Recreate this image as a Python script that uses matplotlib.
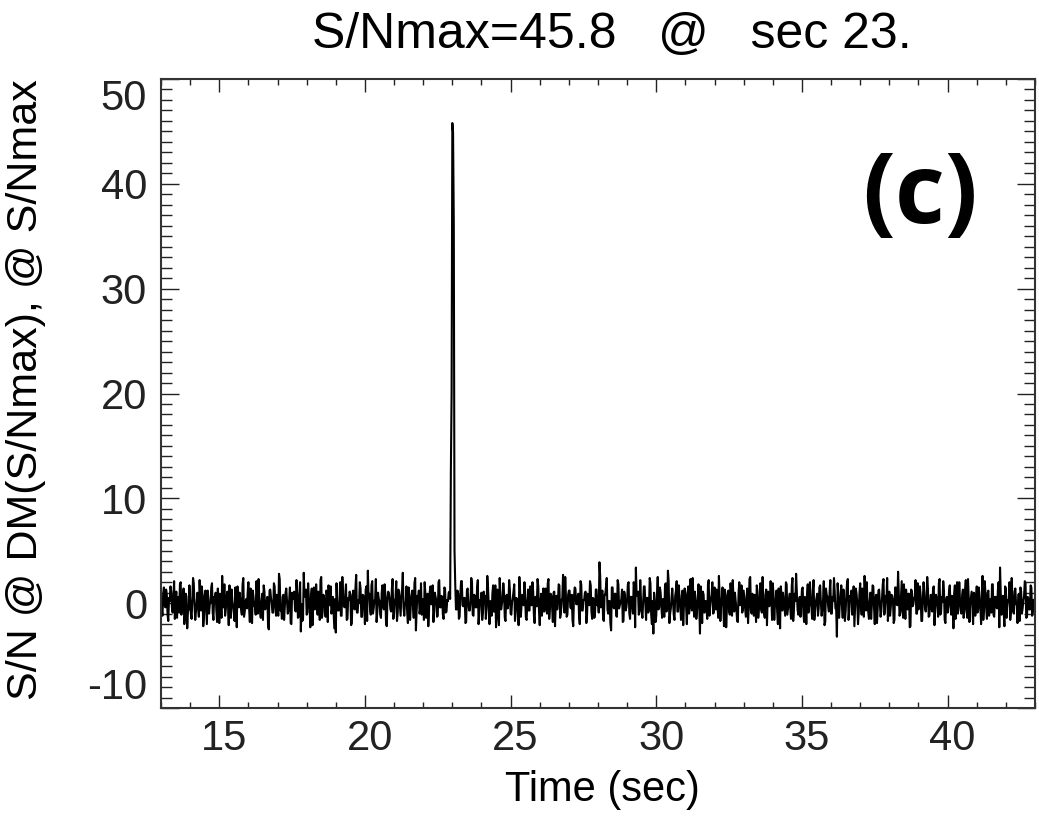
import numpy as np
import matplotlib
matplotlib.use("Agg")
from matplotlib import pyplot as plt
from matplotlib import transforms
from matplotlib.ticker import MultipleLocator

# S/N time series at the DM of the S/N maximum, 13 s to 43 s.
# sn_even: samples every 0.05 s (burst at 23 s), sn_odd: the samples in between.
sn_even = [
    0.3, -1.2, 1.5, -0.4, 0.8, -1.7, 0.2, 1.1, -0.9, 2.1,
    -0.3, -1.4, 0.6, 1.8, -1.1, 0.1, -2.0, 0.9, -2.4, -0.6,
    0.4, -1.5, 2.4, -0.2, -0.8, 1.0, -1.3, 0.5, 1.6, -2.2,
    0.7, -0.5, 1.2, -1.0, 0.0, 1.9, -1.6, 0.3, -0.7, 1.4,
    -1.9, 0.8, 2.6, -0.4, -1.2, 0.6, -0.1, 1.7, -1.4, 0.2,
    -0.9, 1.5, -2.3, 0.4, 1.0, -0.6, 1.8, -1.3, 0.1, -0.5,
    2.0, -1.8, 0.7, 1.2, -0.3, -1.1, 0.9, 2.3, -0.8, 0.2,
    -1.6, 1.1, -0.4, 0.6, -2.5, 1.3, 0.0, -0.9, 1.6, -1.2,
    0.5, 2.8, -0.7, -1.5, 0.8, -0.2, 1.4, -1.0, 0.3, -1.9,
    1.0, 0.4, -0.6, 2.2, -1.4, 0.9, -2.7, -1.7, 2.9, 0.6,
    -1.1, 1.9, -0.3, 0.7, -2.1, 1.5, -0.5, 0.2, 1.1, -1.6,
    2.5, -0.8, 0.4, -1.3, 0.9, 1.7, -0.2, -1.0, 0.6, -2.4,
    -2.8, 0.1, -0.7, 2.0, -1.2, 0.5, -0.4, 1.8, -1.5, 0.3,
    0.8, -1.9, 1.2, -0.6, 2.7, -0.9, 0.0, 1.4, -1.3, 0.7,
    -2.0, 1.6, 3.1, 0.9, -1.1, 2.1, -0.5, 0.4, -1.8, 1.0,
    0.2, -1.4, 1.7, -0.6, 0.9, -2.2, 1.1, 0.3, -0.8, 2.3,
    -1.0, 0.5, -1.7, 1.3, -0.2, 0.8, 2.9, -1.2, 0.1, -0.9,
    1.5, -1.6, 0.6, -0.3, 1.9, -2.6, 0.7, 1.2, -0.5, -1.1,
    0.4, 2.0, -1.4, 0.9, -0.7, 1.6, -0.1, -1.8, 1.0, 0.3,
    -1.2, 2.2, -0.4, 0.6, -1.5, 1.4, -0.8, 0.2, 1.1, 12.8,
    45.8, 36.2, 1.8, -0.6, 0.9, -1.3, 2.1, -0.2, 0.5, -1.9,
    1.2, 0.0, -0.7, 2.4, -1.1, 0.8, -0.4, 1.5, -2.0, 0.3,
    1.0, -0.9, 0.6, -1.5, 2.6, -0.3, 0.2, -1.2, 1.7, -0.8,
    -2.3, 1.3, -2.1, 0.9, -0.1, 1.9, -1.4, 0.7, -0.5, 2.2,
    -1.0, 0.1, 1.1, -1.7, 0.5, -0.6, 2.5, -1.3, 0.8, -0.2,
    0.4, -1.6, 1.3, -0.7, 0.1, 2.0, -1.2, 0.6, -0.3, 1.6,
    -2.1, 0.9, 0.2, -0.8, 1.4, -1.0, 2.3, -0.5, 0.7, -1.8,
    1.1, 0.0, -0.6, 1.8, -1.4, 0.3, 2.7, -0.9, 0.5, -1.1,
    1.2, -0.4, 0.8, -2.2, 1.5, -0.1, 0.6, -1.3, 2.1, -0.7,
    0.3, 1.0, -1.9, 0.9, -0.2, 1.7, -1.5, 0.4, -0.8, 1.3,
    0.6, 3.9, -0.4, 1.2, -1.7, 0.8, 2.4, -1.0, 0.2, -2.6,
    1.5, -0.5, 0.9, -1.3, 1.8, -0.2, 0.4, -1.8, 1.1, -0.7,
    0.3, 2.0, -1.5, 0.6, -1.0, 1.4, 3.4, 0.7, -1.1, 2.2,
    -0.9, 0.1, 1.6, -1.6, 0.5, -0.6, 1.9, -2.0, -2.9, 0.0,
    -1.2, 2.5, -0.4, 1.0, -1.4, 0.3, 1.7, -0.8, 3.1, -1.9,
    -0.5, 1.4, -1.1, 0.7, 2.1, -0.8, 0.3, -1.6, 1.2, -0.2,
    0.9, -2.0, 1.6, -0.4, 0.5, 2.4, -1.3, 0.1, -0.7, 1.8,
    -2.9, 0.6, 1.1, -0.9, 0.2, -1.5, 2.2, -0.3, 0.8, -1.0,
    1.5, -0.6, 0.0, 2.6, -1.7, 0.4, -0.2, 1.3, -2.3, 0.7,
    -0.8, 1.9, -1.2, 0.5, 1.0, -0.5, -1.8, 2.0, 0.2, -0.9,
    1.2, -0.3, 0.6, -1.9, 2.3, -0.7, 0.9, -1.2, 0.1, 1.7,
    -1.4, 0.4, -0.6, 2.5, -1.0, 0.8, -2.1, 1.1, -0.1, 0.5,
    1.9, -1.6, 0.3, -0.8, 1.4, -2.4, 0.7, 1.0, -0.4, 2.0,
    -1.1, 0.2, -0.5, 1.6, -1.7, 0.9, 2.8, -0.6, 0.0, -1.3,
    1.3, -0.9, 0.6, -2.0, 1.8, -0.2, 0.4, -1.5, 2.2, -0.7,
    0.5, -1.2, 1.5, 0.1, -0.6, 2.1, -1.8, 0.8, -0.3, 1.1,
    -1.0, 0.6, 2.4, -0.5, -3.2, 0.9, -0.1, 1.7, -1.4, 0.3,
    -0.8, 2.0, -1.6, 0.7, 1.2, -0.4, -2.2, 1.4, 0.0, -0.9,
    1.9, -1.1, 0.4, 2.6, -0.7, 0.2, -1.5, 1.0, -0.2, 1.6,
    -2.0, 0.8, -0.6, 1.3, -1.3, 0.5, 2.3, -0.8, 0.1, -1.7,
    1.1, -0.4, 0.7, -1.9, 1.5, -0.1, 3.0, -1.2, 0.6, -0.7,
    1.8, -1.5, 0.2, 0.9, -2.3, 1.3, -0.3, 0.5, 2.2, -1.0,
    -0.6, 1.6, -1.7, 0.4, 1.0, -0.8, 2.5, -1.3, 0.1, -0.5,
    1.4, -2.1, 0.8, -0.2, 1.9, -1.1, 0.6, 2.1, -1.6, 0.3,
    -0.9, 1.2, -0.4, 0.7, -2.4, 1.7, 0.0, -1.0, 2.0, -0.3,
    0.8, -1.4, 1.3, -0.6, 2.3, -1.8, 0.5, -0.2, 1.0, -1.2,
    1.6, -0.7, 0.3, -2.0, 2.6, -0.4, 0.9, -1.5, 1.2, 0.1,
    -0.9, 1.8, -1.3, 0.6, -0.5, 2.0, 3.4, -1.1, 0.7, -2.2,
    1.4, -0.3, 0.4, -1.6, 2.4, -0.8, 1.1, -0.1, -1.9, 0.9,
    1.5, -1.0, 0.2, 2.1, -1.4, 0.6, -0.6, 1.7, -1.2, 0.3,
    0.5,
]
sn_odd = [
    -0.6, 0.9, -0.2, 1.3, -1.1, 0.5, 1.6, -0.4, 0.7, -1.5,
    1.1, 0.2, -0.9, 2.0, -0.3, 1.4, -1.2, 0.6, -0.8, 1.7,
    -1.0, 0.3, 1.9, -1.6, 0.1, -0.5, 2.2, -0.7, 0.8, -1.3,
    1.2, -2.0, 0.4, -0.1, 1.5, -0.9, 0.6, 1.0, -1.8, 0.2,
    0.9, -1.4, 0.0, 1.8, -0.6, 1.1, -2.1, 0.5, 1.3, -0.3,
    -1.7, 0.7, 1.6, -0.4, 0.2, -1.1, 2.4, -0.8, 0.4, 1.0,
    -0.5, 1.4, -1.9, 0.6, -0.2, 2.1, -1.0, 0.3, -1.4, 0.9,
    1.7, -0.6, 0.1, -2.2, 1.2, 0.5, -0.9, 1.9, -0.3, 0.8,
    -1.2, 2.3, -0.4, 0.6, -1.6, 1.0, 0.2, -0.7, 1.5, -2.0,
    0.4, 1.1, -0.8, 0.9, -1.3, 2.0, -0.1, -1.5, 0.7, 1.3,
    -0.9, 0.5, -2.3, 1.4, 0.3, -0.6, 1.8, -1.1, 0.2, 2.2,
    -1.4, 0.8, -0.3, 1.2, -1.8, 0.6, 1.6, -0.5, -1.0, 0.4,
    1.9, -0.7, 0.1, -1.2, 2.5, -0.2, 0.9, -1.6, 0.5, 1.1,
    -2.1, 0.7, -0.4, 1.5, -0.9, 0.3, 2.0, -1.3, 0.8, -0.1,
    1.3, -1.7, 0.6, -0.5, 1.7, -1.0, 0.2, 2.3, -0.8, 0.4,
    -1.1, 1.0, -0.3, 1.8, -2.0, 0.5, 0.9, -0.6, 1.4, -1.5,
    0.2, 2.1, -0.9, 0.7, -1.2, 1.3, -0.4, 0.0, 1.6, -1.9,
    0.8, -0.2, 1.2, -1.4, 2.4, -0.7, 0.3, -1.0, 1.9, -0.5,
    -1.6, 0.9, 0.4, -2.2, 1.1, -0.1, 1.7, -0.8, 0.6, -1.3,
    2.0, -0.4, 0.7, -1.1, 1.5, -0.9, 0.3, 1.0, 0.4, 20.0,
    44.9, 5.0, -0.6, 1.2, -1.5, 0.8, 2.1, -0.3, 0.5, -1.8,
    1.4, -0.7, 0.2, 1.9, -1.2, 0.6, -0.4, 2.2, -1.0, 0.3,
    -1.6, 1.1, 0.7, -0.5, 1.5, -2.0, 0.1, 0.9, -0.8, 1.7,
    -0.2, -1.3, 2.4, -0.6, 0.4, 1.0, -1.7, 0.8, -0.1, 1.3,
    -1.1, 0.5, 1.8, -0.9, 0.2, -2.1, 1.2, -0.3, 0.7, 2.0,
    -1.4, 0.3, -0.7, 1.6, -0.2, 1.1, -1.9, 0.6, 2.3, -0.8,
    0.1, -1.2, 1.4, 0.4, -0.6, 1.9, -1.5, 0.9, -0.4, 1.0,
    -2.2, 0.7, 0.2, 1.7, -1.0, 0.5, -0.3, 2.5, -1.3, 0.8,
    1.2, -0.5, -1.6, 0.6, 1.4, -0.1, 0.9, -2.0, 1.8, -0.7,
    0.3, 1.1, -1.1, 0.0, 2.1, -0.8, 0.5, -1.4, 1.3, -0.2,
    -0.9, 2.6, 0.4, -1.5, 0.8, 1.6, -0.6, 0.2, -1.9, 1.5,
    -0.3, 0.9, -1.2, 2.2, -0.5, 0.1, 1.3, -1.7, 0.7, -0.4,
    1.8, -1.0, 0.6, -0.2, 2.0, -2.3, 0.8, 1.1, -0.7, 0.3,
    -1.4, 1.6, -0.1, 0.5, -0.9, 2.4, -1.1, 0.2, 1.0, -1.8,
    0.9, -0.6, 1.5, -0.3, 0.4, -1.3, 1.9, -0.5, 2.1, -1.0,
    0.6, 0.1, -1.6, 1.2, -0.8, 1.7, -0.2, 0.7, -2.1, 1.4,
    -0.4, 0.9, -1.0, 2.3, -0.7, 0.3, 1.1, -1.5, 0.5, -0.1,
    1.6, -1.9, 0.8, 0.2, -0.6, 1.8, -1.2, 0.4, 2.0, -0.9,
    0.0, 1.3, -1.4, 0.7, -0.3, 1.5, -2.2, 0.9, -0.5, 1.2,
    -1.1, 0.6, 2.2, -0.8, 0.3, -1.7, 1.0, -0.2, 1.7, -0.6,
    0.4, -1.3, 1.4, -0.4, 2.5, -1.0, 0.1, 0.8, -1.8, 1.1,
    -0.5, 1.9, -0.9, 0.2, -1.4, 1.3, 0.6, -0.3, 2.1, -1.6,
    0.7, -0.1, 1.2, -2.0, 0.5, 1.6, -0.7, 0.3, -1.2, 1.8,
    -0.4, 0.9, -1.5, 2.4, -0.6, 0.2, 1.0, -1.1, 0.6, -0.2,
    1.5, -1.8, 0.4, 0.8, -0.9, 2.0, -0.3, 1.2, -1.6, 0.1,
    0.9, -0.5, 1.7, -1.2, 0.3, -2.1, 1.4, 0.6, -0.8, 2.2,
    -1.0, 0.2, 1.1, -0.6, 1.9, -1.4, 0.5, -0.2, 1.3, -1.7,
    0.8, 2.3, -0.7, 0.4, -1.1, 1.6, -0.3, 0.9, -2.0, 1.0,
    -0.1, 1.4, -1.3, 0.6, 2.0, -0.8, 0.2, -1.5, 1.7, -0.4,
    0.5, -1.9, 1.2, 0.0, -0.7, 1.8, -1.1, 0.7, 2.4, -0.5,
    -1.2, 0.8, 0.3, -1.6, 1.5, -0.2, 1.0, -0.9, 2.1, -1.4,
    0.4, 1.3, -0.6, 0.9, -2.2, 1.1, -0.1, 0.6, -1.0, 1.9,
    -0.3, 0.7, -1.7, 2.0, -0.5, 0.2, 1.4, -1.2, 0.8, -0.8,
    1.6, -0.4, 0.5, -1.3, 2.3, -0.9, 0.1, 1.2, -1.9, 0.6,
    -0.2, 1.7, -1.1, 0.4, 0.9, -1.5, 2.0, -0.6, 0.3, -1.0,
    1.3, -0.7, 2.2, -1.4, 0.5, -0.1, 1.1, -2.0, 0.8, 0.2,
    -0.9, 1.5, -0.3, 0.7, -1.6, 2.1, -0.5, 1.0, -1.2, 0.4,
    1.8, -1.1, 0.6, -0.4, 1.2, -2.3, 0.9, 0.1, -0.7, 1.6,
    -1.4, 0.3, 2.0, -0.8, 0.5, -1.0, 1.4, -0.2, 0.8, -1.7,
    1.1, -0.5, 0.7, 1.9, -1.3, 0.4, -0.6, 1.5, -0.9, 0.2,
]
t_start = 13.0
t_end = 43.0
y_ticks = [-10, 0, 10, 20, 30, 40, 50]
x_ticks = [15, 20, 25, 30, 35, 40]
title = "S/Nmax=45.8   @   sec 23."

sn = np.empty(len(sn_even) + len(sn_odd))
sn[0::2] = sn_even
sn[1::2] = sn_odd
time = np.linspace(t_start, t_end, len(sn))

plt.rcParams['font.family'] = ['Liberation Sans', 'DejaVu Sans']
plt.rcParams['axes.unicode_minus'] = False

fig = plt.figure(figsize=(10.39, 8.18), dpi=100)
ax = fig.add_axes([161 / 1039, 1 - 708 / 818, (1035 - 161) / 1039, (708 - 79) / 818])

ax.plot(time, sn, color='black', lw=1.5)

ax.set_xlim(13, 43)
ax.set_ylim(-10, 50)
ax.set_xticks(x_ticks)
ax.set_yticks(y_ticks)
ax.xaxis.set_minor_locator(MultipleLocator(1))
ax.yaxis.set_minor_locator(MultipleLocator(1))
ax.tick_params(axis='both', which='both', direction='in', top=True, right=True,
               labelsize=30, colors='#222222', width=1.0)
ax.tick_params(axis='x', which='major', length=9.5, pad=8)
ax.tick_params(axis='x', which='minor', length=4.5)
ax.tick_params(axis='y', which='major', length=13, pad=10)
ax.tick_params(axis='y', which='minor', length=8)
for s in ax.spines.values():
    s.set_linewidth(1.5)
    s.set_color('#333333')

ylabels = ax.get_yticklabels()
ylabels[0].set_va('bottom')
ylabels[-1].set_va('top')
shift = transforms.ScaledTranslation(5 / 100, 0, fig.dpi_scale_trans)
for lab in ax.get_xticklabels():
    lab.set_transform(lab.get_transform() + shift)

fig.text(612 / 1039, 1 - 35 / 818, title, ha='center', va='center', fontsize=36)
fig.text(602 / 1039, 1 - 790 / 818, "Time (sec)", ha='center', va='center', fontsize=30)
fig.text(26 / 1039, 1 - 390 / 818, "S/N @ DM(S/Nmax), @ S/Nmax", ha='center', va='center',
         rotation=90, fontsize=31)
fig.text(920 / 1039, 1 - 197 / 818, "(c)", ha='center', va='center', fontsize=70,
         fontweight='bold', family=['Open Sans', 'DejaVu Sans'])

fig.savefig("out.png", dpi=100)
